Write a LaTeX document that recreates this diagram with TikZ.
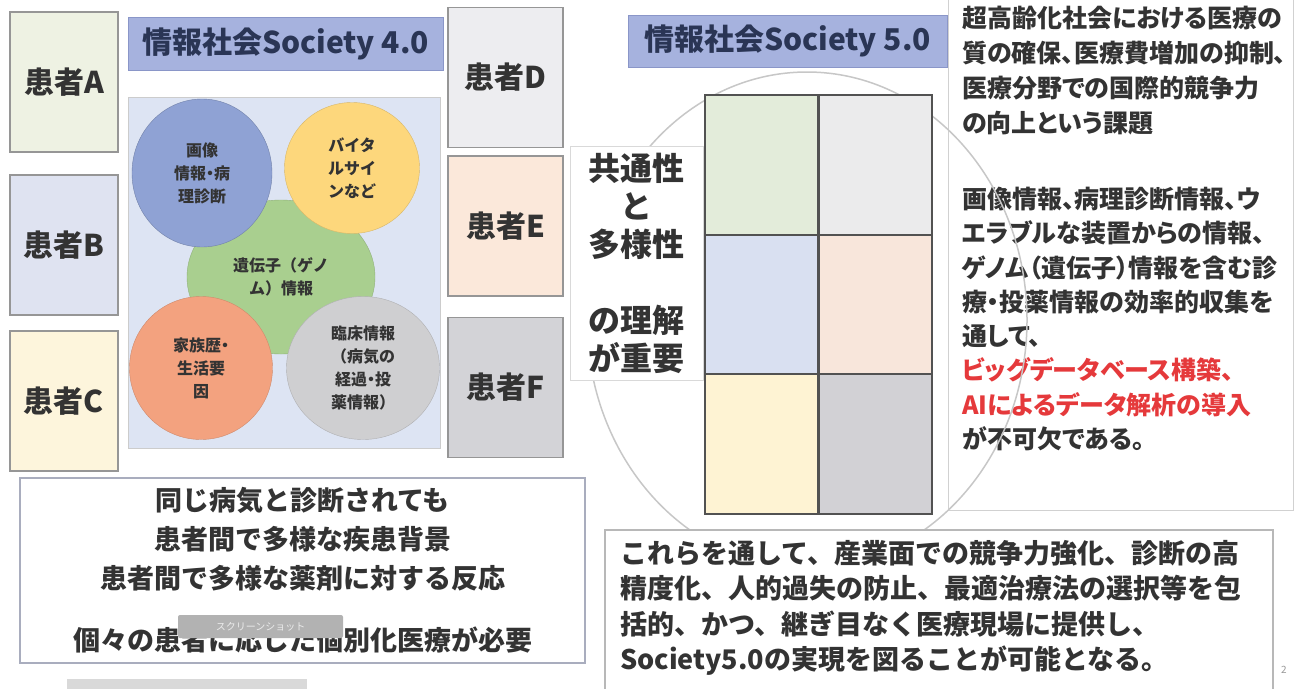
\documentclass[tikz,border=0pt]{standalone}
\usepackage{fontspec}
\setmainfont{Noto Sans CJK JP}
\newfontfamily\propfont{Noto Sans CJK JP}[RawFeature=+palt]
\usetikzlibrary{shapes.geometric}

\definecolor{txt}{HTML}{333333}
\definecolor{navy}{HTML}{2A3555}
\definecolor{ptline}{HTML}{969696}
\definecolor{ptA}{HTML}{EEF2E3}
\definecolor{ptB}{HTML}{DFE3F1}
\definecolor{ptC}{HTML}{FDF5DC}
\definecolor{ptD}{HTML}{EDEDF0}
\definecolor{ptE}{HTML}{FBE8DA}
\definecolor{ptF}{HTML}{D3D3D7}
\definecolor{barfill}{HTML}{A6B2DE}
\definecolor{barline}{HTML}{8A96C8}
\definecolor{panel}{HTML}{DDE4F3}
\definecolor{blueb}{HTML}{8FA2D4}
\definecolor{yellowb}{HTML}{FDD77C}
\definecolor{greenb}{HTML}{A9CF8F}
\definecolor{orangeb}{HTML}{F3A27F}
\definecolor{grayb}{HTML}{CFCFD1}
\definecolor{cellA}{HTML}{E3ECDA}
\definecolor{cellD}{HTML}{EBEBEC}
\definecolor{cellB}{HTML}{D9E0F1}
\definecolor{cellE}{HTML}{F8E6DB}
\definecolor{cellC}{HTML}{FEF3D3}
\definecolor{cellF}{HTML}{D2D1D5}
\definecolor{accent}{HTML}{E5393B}
\definecolor{boxline}{HTML}{A9ADBE}

\begin{document}
\begin{tikzpicture}[x=1pt,y=-1pt]
	\tikzstyle{patient} = [draw=ptline, line width=1.5pt, minimum width=108pt, minimum height=140pt, inner sep=0pt, text=txt, font=\bfseries\fontsize{30}{36}\selectfont]
	\tikzstyle{titlebar} = [draw=barline, fill=barfill, line width=1pt, minimum height=53pt, inner sep=0pt, text=navy, font=\bfseries\fontsize{30}{36}\selectfont]
	\tikzstyle{blob} = [ellipse, inner sep=0pt, align=center, text=txt, font=\bfseries\fontsize{16}{23}\selectfont]
	\tikzstyle{cell} = [draw=black!68, line width=2pt, minimum width=113pt, minimum height=140pt]
	\tikzstyle{frame} = [draw=black!28, line width=1.2pt, fill=white]
	\tikzstyle{ring} = [draw=black!22, line width=1.5pt]

	\fill[white] (0,0) rectangle (1300,688);
	\useasboundingbox (0,0) rectangle (1300,688);

	% patients
	\node[patient, fill=ptA] (pA) at (64,82) {患者A};
	\node[patient, fill=ptB] (pB) at (64,245) {患者B};
	\node[patient, fill=ptC] (pC) at (64,401) {患者C};
	\node[patient, fill=ptD, minimum width=115pt] (pD) at (505.5,77.5) {患者D};
	\node[patient, fill=ptE, minimum width=115pt] (pE) at (505.5,226) {患者E};
	\node[patient, fill=ptF, minimum width=115pt] (pF) at (505.5,387.5) {患者F};

	% Society 4.0
	\node[titlebar, minimum width=315pt] (soc4) at (285.5,43.5) {情報社会Society 4.0};
	\node[draw=black!20, fill=panel, minimum width=312pt, minimum height=351pt] (pool) at (284,272.5) {};
	\node[blob, fill=greenb, draw=greenb!85!black, minimum width=188pt, minimum height=154pt] (genome) at (281,277) {遺伝子（ゲノ\\ム）情報};
	\node[blob, fill=blueb, draw=blueb!80!black, minimum width=140pt, minimum height=148pt] (image) at (202,173) {画像\\{\propfont 情報・病}\\理診断};
	\node[blob, fill=yellowb, draw=yellowb!85!black, minimum width=135pt, minimum height=131pt] (vital) at (352,168) {バイタ\\ルサイ\\ンなど};
	\node[blob, fill=orangeb, draw=orangeb!85!black, minimum width=143pt, minimum height=143pt] (family) at (201,368) {{\propfont 家族歴・}\\生活要\\因};
	\node[blob, fill=grayb, draw=grayb!85!black, minimum width=153pt, minimum height=143pt] (clinic) at (363,368) {臨床情報\\（病気の\\{\propfont 経過・投}\\薬情報）};

	% Society 5.0
	\node[titlebar, minimum width=319pt, minimum height=52pt] (soc5) at (787.5,41) {情報社会Society 5.0};

	\node[draw=black!18, line width=1pt, minimum width=345pt, minimum height=520pt] (issue) at (1120.5,250) {};
	\node[anchor=west, align=left, inner sep=0pt, text=txt, font=\propfont\bfseries\fontsize{25}{35}\selectfont] (issuetxt) at (962,70.5)
		{超高齢化社会における医療の\\質の確保、医療費増加の抑制、\\医療分野での国際的競争力\\の向上という課題};
	\node[anchor=west, align=left, inner sep=0pt, text=txt, font=\propfont\bfseries\fontsize{25}{34.3}\selectfont] (plan) at (962,319)
		{画像情報、病理診断情報、ウ\\エラブルな装置からの情報、\\ゲノム（遺伝子）情報を含む診\\療・投薬情報の効率的収集を\\通して、\\\textcolor{accent}{ビッグデータベース構築、}\\\textcolor{accent}{AIによるデータ解析の導入}\\が不可欠である。};

	\draw[ring] (807,320) ellipse [x radius=220pt, y radius=248pt];

	\node[draw=black!15, fill=white, line width=0.8pt, minimum width=133pt, minimum height=234pt, align=center, inner sep=0pt, text=txt, font=\bfseries\fontsize{32}{38}\selectfont] (common) at (636.5,263)
		{共通性\\と\\多様性\\[38pt]の理解\\が重要};

	\node[cell, fill=cellA] (c11) at (761.5,165) {};
	\node[cell, fill=cellD] (c12) at (875,165) {};
	\node[cell, fill=cellB] (c21) at (761.5,305) {};
	\node[cell, fill=cellE] (c22) at (875,305) {};
	\node[cell, fill=cellC] (c31) at (761.5,444) {};
	\node[cell, fill=cellF] (c32) at (875,444) {};

	% bottom boxes
	\node[frame, draw=boxline, minimum width=565pt, minimum height=185pt, align=center, text=txt, font=\bfseries\fontsize{27}{39}\selectfont] (diverse) at (302.5,570.5)
		{同じ病気と診断されても\\患者間で多様な疾患背景\\患者間で多様な薬剤に対する反応\\[23pt]個々の患者に応じた個別化医療が必要};
	\node[frame, minimum width=668pt, minimum height=170pt] (outcome) at (939,615) {};
	\node[anchor=west, align=left, inner sep=0pt, text=txt, font=\bfseries\fontsize{27}{35.5}\selectfont] (outcometxt) at (620,608)
		{これらを通して、産業面での競争力強化、診断の高\\精度化、人的過失の防止、最適治療法の選択等を包\\括的、かつ、継ぎ目なく医療現場に提供し、\\Society5.0の実現を図ることが可能となる。};

	\node[fill=black!30, rounded corners=2pt, minimum width=165pt, minimum height=23pt, inner sep=0pt, text=black!8, font=\fontsize{10}{12}\selectfont] (shot) at (260.5,626.5) {スクリーンショット};
	\node[fill=black!15, minimum width=240pt, minimum height=10pt, inner sep=0pt] (strip) at (187,684) {};
	\node[text=black!40, font=\fontsize{10}{12}\selectfont, inner sep=0pt] (pageno) at (1284,670) {2};
\end{tikzpicture}
\end{document}
